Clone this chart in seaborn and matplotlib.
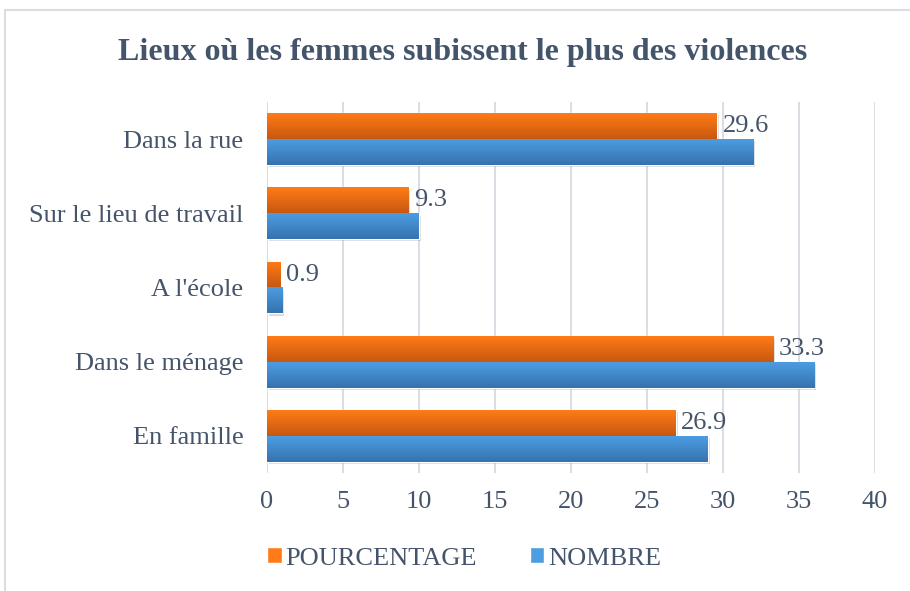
import numpy as np
import pandas as pd
import seaborn as sns
import matplotlib.pyplot as plt
from matplotlib.patches import Patch, Rectangle
from matplotlib.colors import LinearSegmentedColormap

# data
lieux = ["Dans la rue", "Sur le lieu de travail", "A l'école", "Dans le ménage", "En famille"]
pourcentage = [29.6, 9.3, 0.9, 33.3, 26.9]
nombre = [32, 10, 1, 36, 29]
series = ["POURCENTAGE", "NOMBRE"]

df = pd.DataFrame({
    "lieu": lieux * 2,
    "valeur": pourcentage + nombre,
    "serie": [series[0]] * len(lieux) + [series[1]] * len(lieux),
})

txt = "#44546A"
orange = ("#FF7B17", "#C8580F")
bleu = ("#4C9DE2", "#3672AE")

sns.set_theme(style="white")
plt.rcParams["font.family"] = ["Liberation Serif", "DejaVu Serif"]

fig = plt.figure(figsize=(9.1, 5.91), dpi=100)
ax = fig.add_axes([0.2934, 1 - 473 / 591, 0.668, 371 / 591])

sns.barplot(data=df, x="valeur", y="lieu", hue="serie", order=lieux,
            hue_order=series, orient="h", width=0.7,
            palette=[orange[0], bleu[0]], ax=ax, legend=False, zorder=3)

ax.set_xlim(0, 40)
ylim = ax.get_ylim()

# gradient fill + light shadow for each bar
n = len(lieux)
for i, p in enumerate(ax.patches):
    cols = orange if i < n else bleu
    cmap = LinearSegmentedColormap.from_list("g", [cols[0], cols[1]])
    x0, y0 = p.get_x(), p.get_y()
    w, h = p.get_width(), p.get_height()
    grad = np.linspace(0, 1, 50).reshape(-1, 1)
    ax.add_patch(Rectangle((x0 + 0.12, y0 + 0.03), w, h, color="#000000",
                           alpha=0.15, zorder=2, lw=0))
    im = ax.imshow(grad, cmap=cmap, aspect="auto", extent=[x0, x0 + w, y0 + h, y0],
                   zorder=3.5, interpolation="bilinear")
    im.set_clip_path(p)

ax.set_ylim(ylim)
ax.set_xlim(0, 40)

ax.bar_label(ax.containers[0], labels=[f"{v:.1f}" for v in pourcentage],
             padding=4, fontsize=19, color=txt)

ax.set_xticks(range(0, 45, 5))
ax.grid(axis="x", color="#D9DDE4", lw=1.4, zorder=0)
ax.grid(axis="y", visible=False)
for s in ax.spines.values():
    s.set_visible(False)
ax.tick_params(axis="both", length=0, labelsize=19, labelcolor=txt)
ax.tick_params(axis="y", pad=17)
ax.tick_params(axis="x", pad=13)
ax.set_xlabel("")
ax.set_ylabel("")

fig.text(0.508, 0.912, "Lieux où les femmes subissent le plus des violences",
         ha="center", va="center", fontsize=23, fontweight="bold", color=txt)

handles = [Patch(facecolor=orange[0], label=series[0]),
           Patch(facecolor=bleu[0], label=series[1])]
fig.legend(handles=handles, loc="center", bbox_to_anchor=(0.51, 0.055), ncol=2,
           frameon=False, fontsize=19, labelcolor=txt, handlelength=0.55,
           handleheight=0.55, handletextpad=0.15, columnspacing=2.0)

fig.add_artist(Rectangle((0.006, -0.05), 1.1, 1.033, transform=fig.transFigure,
                         fill=False, edgecolor="#D9DDE4", lw=1.5))

fig.savefig("out.png", dpi=100)
